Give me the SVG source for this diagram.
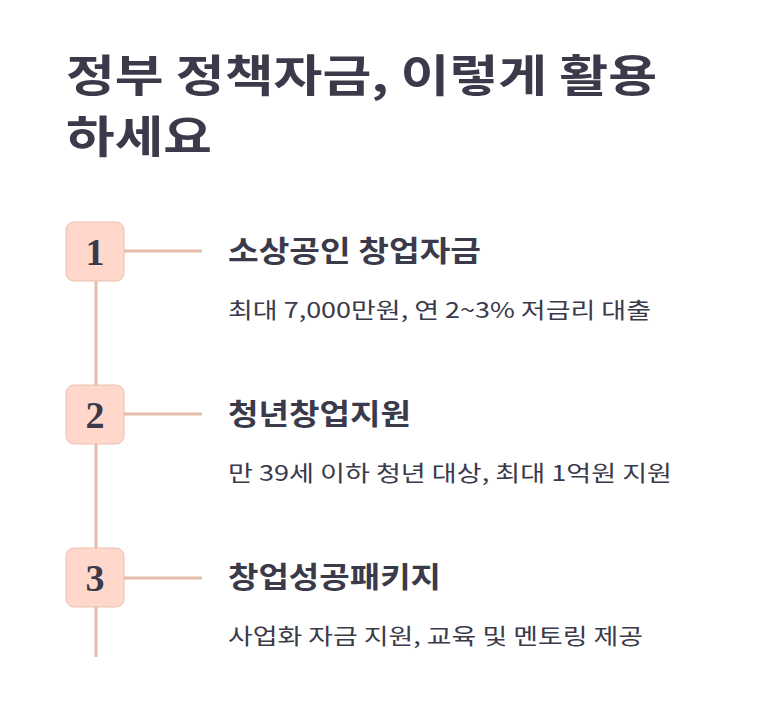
<svg xmlns="http://www.w3.org/2000/svg" width="775" height="714" viewBox="0 0 775 714">
<style>
.t{font-family:"Noto Sans CJK KR","Noto Sans",sans-serif;fill:#3b3a4a}
.h{font-size:44px;font-weight:700}
.n{font-size:29px;font-weight:700}
.d{font-size:22px}
.num{font-family:"Liberation Serif",serif;font-size:38px;font-weight:700;fill:#3b3a4a;text-anchor:middle}
.box{fill:#ffd8cb;stroke:#ebbfae;stroke-width:1}
.ln{stroke:#e5bbaa;stroke-width:3;fill:none}
</style>
<rect width="775" height="714" fill="#fff"/>
<text class="t h" x="66" y="92" textLength="591" lengthAdjust="spacingAndGlyphs">정부 정책자금, 이렇게 활용</text>
<text class="t h" x="66" y="153" textLength="146" lengthAdjust="spacingAndGlyphs">하세요</text>
<g id="connectors">
<path class="ln" d="M96 281V385M96 444V548M96 607V657M124 251H202M124 414H202M124 578H202"/>
</g>
<g id="n1"><rect class="box" x="66" y="222" width="58" height="59" rx="8"/><text class="num" x="95" y="265">1</text>
<text class="t n" x="228" y="262" textLength="253" lengthAdjust="spacingAndGlyphs">소상공인 창업자금</text><text class="t d" x="228" y="318" textLength="423" lengthAdjust="spacingAndGlyphs">최대 7,000만원, 연 2~3% 저금리 대출</text></g>
<g id="n2"><rect class="box" x="66" y="385" width="58" height="59" rx="8"/><text class="num" x="95" y="428">2</text>
<text class="t n" x="228" y="425" textLength="183" lengthAdjust="spacingAndGlyphs">청년창업지원</text><text class="t d" x="228" y="481" textLength="444" lengthAdjust="spacingAndGlyphs">만 39세 이하 청년 대상, 최대 1억원 지원</text></g>
<g id="n3"><rect class="box" x="66" y="548" width="58" height="59" rx="8"/><text class="num" x="95" y="591">3</text>
<text class="t n" x="228" y="588" textLength="213" lengthAdjust="spacingAndGlyphs">창업성공패키지</text><text class="t d" x="228" y="644" textLength="415" lengthAdjust="spacingAndGlyphs">사업화 자금 지원, 교육 및 멘토링 제공</text></g>
</svg>
